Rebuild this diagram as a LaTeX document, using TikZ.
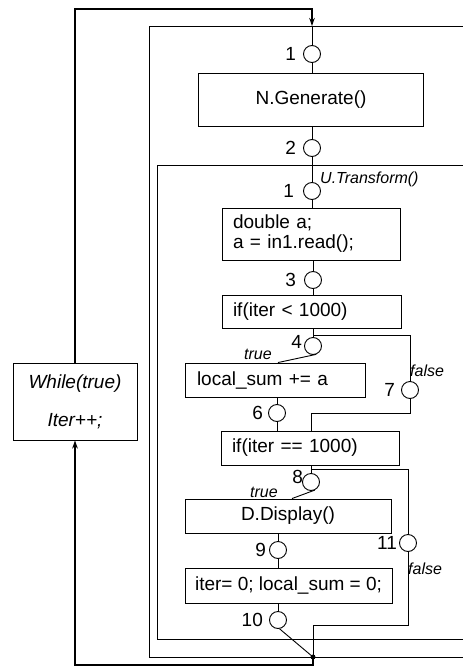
\documentclass[tikz,border=0pt]{standalone}
\usepackage{fontspec}
\setmainfont{Liberation Sans}
\usetikzlibrary{arrows.meta}
\begin{document}
\begin{tikzpicture}[x=1pt,y=-1pt,
  box/.style={draw, line width=0.9pt, inner ysep=0pt, font=\fontsize{19}{20}\selectfont},
  lbox/.style={box, align=left, inner xsep=11pt},
  circ/.style={draw, circle, minimum size=17pt, inner sep=0pt, line width=0.9pt},
  num/.style={font=\fontsize{19}{20}\selectfont, inner sep=0pt, anchor=east},
  lab/.style={font=\fontsize{16}{18}\selectfont\itshape, inner sep=0pt},
  wire/.style={line width=0.9pt},
  fb/.style={line width=1.2pt},
  tip/.style={-{Stealth[length=8pt,width=5.5pt]}}
]
\useasboundingbox (0,0) rectangle (463,667);

% frames
\draw[wire] (463,26) -- (149,26) -- (149,657) -- (463,657);
\draw[wire] (463,165) -- (157,165) -- (157,639) -- (463,639);

% boxes
\node[box, minimum width=225pt, minimum height=53pt] (gen) at (311,99.5) {N.Generate()};
\node[lbox, text width=156pt, minimum height=52pt] (dbl) at (311,234) {double a;\\a = in1.read();};
\node[lbox, text width=157pt, minimum height=33pt] (if1) at (311.5,311.5) {if(iter < 1000)};
\node[lbox, inner xsep=12pt, text width=156pt, minimum height=34pt] (loc) at (275,380) {local\_sum += a};
\node[lbox, text width=156pt, minimum height=34pt] (if2) at (310,448) {if(iter == 1000)};
\node[box, minimum width=206pt, minimum height=34pt] (disp) at (288,516) {D.Display()};
\node[box, minimum width=207pt, minimum height=35pt] (rst) at (288.5,585.5) {iter= 0; local\_sum = 0;};
\node[box, minimum width=124pt, minimum height=77pt, align=center,
      font=\fontsize{19}{38}\selectfont\itshape] (wh) at (75,401.5) {While(true)\\Iter++;};

% circles
\node[circ] (c1) at (312,54) {};
\node[circ] (c2) at (312,148) {};
\node[circ] (c1b) at (312,191) {};
\node[circ] (c3) at (313,280) {};
\node[circ] (c4) at (313,346) {};
\node[circ] (c7) at (410,390) {};
\node[circ] (c6) at (277,413) {};
\node[circ] (c8) at (311,482) {};
\node[circ] (c9) at (278,550) {};
\node[circ] (c11) at (408,543) {};
\node[circ] (c10) at (278,620) {};

% numbers
\node[num] at ([xshift=-7pt]c1.west) {1};
\node[num] at ([xshift=-7pt]c2.west) {2};
\node[num] at ([xshift=-9pt]c1b.west) {1};
\node[num] at ([xshift=-8pt]c3.west) {3};
\node[num] at ([xshift=-2pt,yshift=4pt]c4.west) {4};
\node[num] at ([xshift=-6pt]c7.west) {7};
\node[num] at ([xshift=-5pt]c6.west) {6};
\node[num] at ([xshift=1pt,yshift=5pt]c8.west) {8};
\node[num] at ([xshift=-3pt]c9.west) {9};
\node[num] at ([xshift=-2pt]c11.west) {11};
\node[num] at ([xshift=-6pt]c10.west) {10};

% italic labels
\node[lab, anchor=west] at (320,179) {U.Transform()};
\node[lab] at (258,354) {true};
\node[lab, anchor=west] at (410,371) {false};
\node[lab] at (264,492) {true};
\node[lab, anchor=west] at (408,569) {false};

% coordinates
\coordinate (entry) at (312,26);
\coordinate (top) at (312,9);
\coordinate (br1) at (313,335);
\coordinate (m1) at (311,413);
\coordinate (br2) at (311,469);
\coordinate (m2) at (313,625);
\coordinate (dot) at (313,657);
\coordinate (low) at (313,665);

% main flow
\draw[fb, tip] (wh.north) |- (top) -- (entry);
\draw[wire] (entry) -- (c1);
\draw[wire] (c1) -- (c1 |- gen.north);
\draw[wire] (gen.south -| c2) -- (c2);
\draw[wire] (c2) -- (c1b);
\draw[wire] (c1b) -- (c1b |- dbl.north);
\draw[wire] (dbl.south -| c3) -- (c3);
\draw[wire] (c3) -- (c3 |- if1.north);
\draw[wire] (if1.south -| c4) -- (c4);
\draw[wire] (br1) -| (c7);
\draw[wire] (c4.-70) -- ([xshift=3pt]loc.north);
\draw[wire] (loc.south -| c6) -- (c6);
\draw[wire] (c6) -- (c6 |- if2.north);
\draw[wire] (c7) |- (m1) -- (m1 |- if2.north);
\draw[wire] (if2.south -| c8) -- (c8);
\draw[wire] (br2) -| (c11);
\draw[wire] (c8.-65) -- ([xshift=4pt]disp.north);
\draw[wire] (disp.south -| c9) -- (c9);
\draw[wire] (c9) -- (c9 |- rst.north);
\draw[wire] (rst.south -| c10) -- (c10);
\draw[wire] (c10.-80) -- (dot);
\draw[wire] (c11) |- (m2) -- (dot);
\fill (dot) circle (2.5pt);
\draw[fb, tip] (dot) -- (low) -| (wh.south);
\end{tikzpicture}
\end{document}
